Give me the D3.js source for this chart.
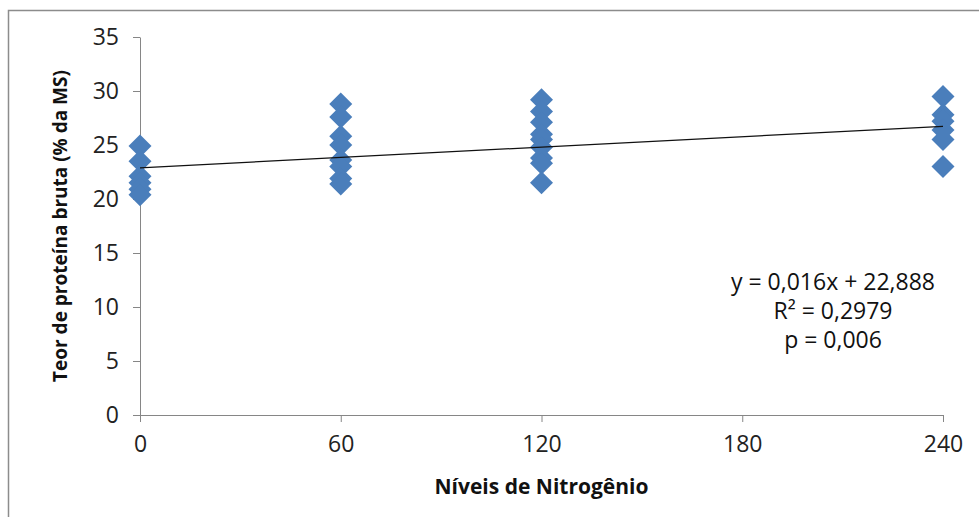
<!DOCTYPE html>
<html>
<head>
<meta charset="utf-8">
<script src="https://cdn.jsdelivr.net/npm/d3@7"></script>
<style>
  body { margin: 0; background: #fff; }
  svg { display: block; font-family: "Open Sans", "Noto Sans", sans-serif; }
  .axis path, .axis line { stroke: #868686; }
</style>
</head>
<body>
<div id="plot"></div>
<script>
// nitrogen levels and crude protein readings
var levels = [0, 60, 120, 240];
var protein0 = [24.9, 23.5, 22.1, 21.5, 20.9, 20.4];
var protein60 = [28.8, 27.6, 25.8, 25.0, 23.6, 23.0, 21.9, 21.4];
var protein120 = [29.2, 28.1, 27.1, 26.0, 25.5, 24.8, 23.8, 23.3, 21.5];
var protein240 = [29.5, 27.8, 27.2, 26.4, 25.5, 23.0];
var xTicks = [0, 60, 120, 180, 240];
var yTicks = [0, 5, 10, 15, 20, 25, 30, 35];
var slope = 0.016, intercept = 22.888;
var eqLines = ["y = 0,016x + 22,888", "R\u00b2 = 0,2979", "p = 0,006"];

var W = 979, H = 517;
var margin = { top: 37, right: 36, bottom: 102, left: 140 },
    width = W - margin.left - margin.right,
    height = H - margin.top - margin.bottom;

var svg = d3.select("#plot").append("svg")
    .attr("width", W)
    .attr("height", H);

// outer frame (cut off at right and bottom)
svg.append("rect")
    .attr("x", 8.5).attr("y", 10.5)
    .attr("width", W + 10).attr("height", H + 10)
    .attr("fill", "none")
    .attr("stroke", "#8c8c8c")
    .attr("stroke-width", 1.5);

var g = svg.append("g")
    .attr("transform", "translate(" + margin.left + "," + margin.top + ")");

var x = d3.scaleLinear().domain([0, 240]).range([0, width]);
var y = d3.scaleLinear().domain([0, 35]).range([height, 0]);

var xAxisG = g.append("g")
    .attr("class", "axis")
    .attr("transform", "translate(0," + height + ")")
    .call(d3.axisBottom(x).tickValues(xTicks).tickSizeInner(7).tickSizeOuter(0).tickPadding(14));

var yAxisG = g.append("g")
    .attr("class", "axis")
    .call(d3.axisLeft(y).tickValues(yTicks).tickSizeInner(7).tickSizeOuter(0).tickPadding(14));

[xAxisG, yAxisG].forEach(function(a) {
    a.attr("font-family", null).attr("font-size", null);
    a.selectAll("text")
        .style("font-size", "23px")
        .style("fill", "#222");
});

// points
var series = [protein0, protein60, protein120, protein240];
var pts = [];
series.forEach(function(vals, i) {
    vals.forEach(function(v) { pts.push({ n: levels[i], v: v }); });
});

var diamond = "M0,-11.5L11.5,0L0,11.5L-11.5,0Z";
g.append("g").selectAll("path")
    .data(pts)
    .enter().append("path")
    .attr("d", diamond)
    .attr("fill", "#4a7ebb")
    .attr("transform", function(d) { return "translate(" + x(d.n) + "," + y(d.v) + ")"; });

// trend line
var line = d3.line()
    .x(function(d) { return x(d); })
    .y(function(d) { return y(slope * d + intercept); });
g.append("path")
    .datum([0, 240])
    .attr("fill", "none")
    .attr("stroke", "#111")
    .attr("stroke-width", 1.2)
    .attr("d", line);

// equation text
g.append("g").selectAll("text")
    .data(eqLines)
    .enter().append("text")
    .attr("x", 693)
    .attr("y", function(d, i) { return 253 + i * 29; })
    .attr("text-anchor", "middle")
    .style("font-size", "23px")
    .attr("fill", "#111")
    .text(function(d) { return d; });

// axis titles
svg.append("text")
    .attr("x", margin.left + x(120))
    .attr("y", 494)
    .attr("text-anchor", "middle")
    .style("font-size", "21px")
    .style("font-weight", "bold")
    .attr("fill", "#111")
    .text("Níveis de Nitrogênio");

svg.append("text")
    .attr("transform", "translate(67," + (margin.top + height / 2) + ") rotate(-90)")
    .attr("text-anchor", "middle")
    .style("font-size", "19px")
    .style("font-weight", "bold")
    .attr("fill", "#111")
    .text("Teor de proteína bruta (% da MS)");
</script>
</body>
</html>
